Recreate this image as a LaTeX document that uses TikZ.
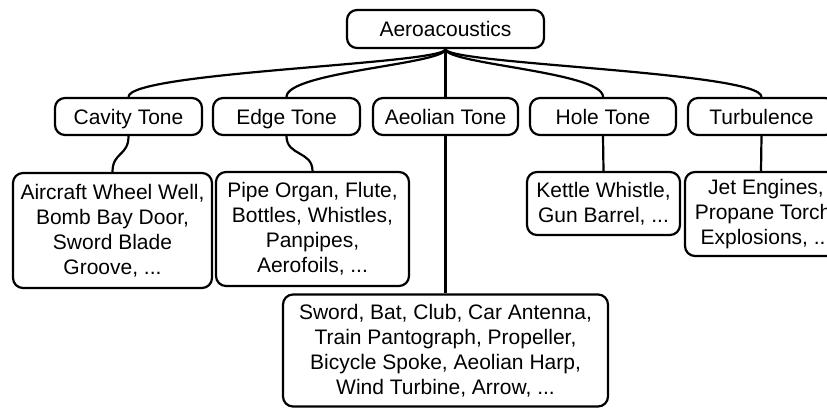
\documentclass[tikz,border=0pt]{standalone}
\usepackage{fontspec}
\setmainfont{Liberation Sans}
\begin{document}
\begin{tikzpicture}[x=1pt,y=-1pt,
  box/.style={draw=black, line width=2.2pt, rounded corners=10pt, inner sep=0pt,
    align=center, font=\fontsize{21}{25}\selectfont, fill=white},
  single/.style={box, text height=17pt, text depth=2pt},
  link/.style={draw=black, line width=2.2pt}]
\useasboundingbox (0,0) rectangle (827,408);
% root
\node[single, minimum width=197pt, minimum height=38pt] (root) at (445.5,29) {Aeroacoustics};
% level 2
\node[single, minimum width=147pt, minimum height=37pt] (cav) at (128.5,116.5) {Cavity Tone};
\node[single, minimum width=147pt, minimum height=37pt] (edge) at (286.5,116.5) {Edge Tone};
\node[single, minimum width=145pt, minimum height=37pt] (aeol) at (445.5,116.5) {Aeolian Tone};
\node[single, minimum width=146pt, minimum height=37pt] (hole) at (603,116.5) {Hole Tone};
\node[single, minimum width=147pt, minimum height=37pt] (turb) at (761.5,116.5) {Turbulence};
% level 3
\node[box, minimum width=199pt, minimum height=115pt] (air) at (112.5,230.5)
  {Aircraft Wheel Well,\\Bomb Bay Door,\\Sword Blade\\Groove, ...};
\node[box, minimum width=193pt, minimum height=114pt] (pipe) at (312.5,229)
  {Pipe Organ, Flute,\\Bottles, Whistles,\\Panpipes,\\Aerofoils, ...};
\node[box, minimum width=153pt, minimum height=63pt] (kett) at (603.5,203.5)
  {Kettle Whistle,\\Gun Barrel, ...};
\node[box, minimum width=162pt, minimum height=84pt] (jet) at (766,214)
  {Jet Engines,\\Propane Torch,\\Explosions, ...};
\node[box, minimum width=325pt, minimum height=112pt] (sword) at (445.5,350.5)
  {Sword, Bat, Club, Car Antenna,\\Train Pantograph, Propeller,\\Bicycle Spoke, Aeolian Harp,\\Wind Turbine, Arrow, ...};
% connectors root -> level 2
\draw[link] (root.south) .. controls +(0,15) and +(0,-25) .. (cav.north);
\draw[link] (root.south) .. controls +(0,15) and +(0,-25) .. (edge.north);
\draw[link] (root.south) -- (aeol.north);
\draw[link] (root.south) .. controls +(0,15) and +(0,-25) .. (hole.north);
\draw[link] (root.south) .. controls +(0,15) and +(0,-25) .. (turb.north);
% connectors level 2 -> level 3
\draw[link] (cav.south) .. controls +(0,20) and +(0,-20) .. (air.north);
\draw[link] (edge.south) .. controls +(0,20) and +(0,-20) .. (pipe.north);
\draw[link] (aeol.south) -- (sword.north);
\draw[link] (hole.south) -- (kett.north);
\draw[link] (turb.south) -- ([xshift=-5pt]jet.north);
\end{tikzpicture}
\end{document}
